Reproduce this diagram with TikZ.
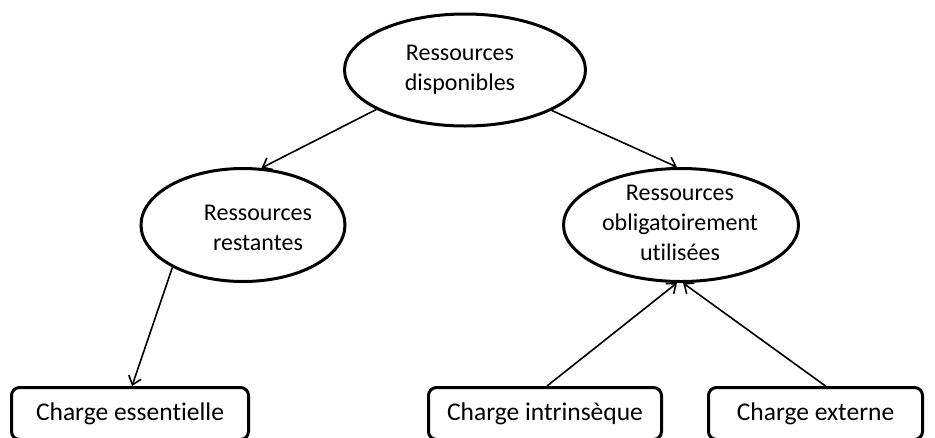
\documentclass[tikz,border=0pt]{standalone}
\usepackage{fontspec}
\setmainfont{Carlito}[RawFeature=-liga]
\usetikzlibrary{shapes.geometric,arrows.meta,calc}
\begin{document}
\begin{tikzpicture}[x=1pt,y=-1pt,
  ell/.style={draw=black,line width=3pt,ellipse,inner sep=0pt},
  lbl/.style={align=center,font=\fontsize{24}{30}\selectfont,inner sep=0pt},
  box/.style={draw=black,line width=3pt,rounded corners=8pt,inner sep=0pt,minimum height=52pt,font=\fontsize{25.5}{30}\selectfont},
  arr/.style={line width=1.6pt,-{Straight Barb[length=8pt,width=13pt,line width=1.6pt]}}]
\useasboundingbox (0,0) rectangle (935,437);
\node[ell,minimum width=241pt,minimum height=112pt] (top) at (465,70) {};
\node[lbl] (toptxt) at (460,70) {Ressources\\disponibles};
\node[ell,minimum width=204pt,minimum height=113pt] (left) at (243,225) {};
\node[lbl] (lefttxt) at (258,228) {Ressources\\restantes};
\node[ell,minimum width=235pt,minimum height=113pt] (right) at (681,225) {};
\node[lbl] (righttxt) at (680,223) {Ressources\\obligatoirement\\utilisées};
\node[box,minimum width=237pt] (b1) at (130,413.5) {Charge essentielle};
\node[box,minimum width=233pt] (b2) at (545,413.5) {Charge intrinsèque};
\node[box,minimum width=214pt] (b3) at (815.5,413.5) {Charge externe};
\draw[arr] (top.204) -- (left.72);
\draw[arr] (top.335) -- (right.94);
\draw[arr] (left.211.7) -- ([xshift=2pt]b1.north);
\draw[arr] ([xshift=2pt]b2.north) -- (right.266);
\draw[arr] ([xshift=10pt]b3.north) -- (right.272);
\end{tikzpicture}
\end{document}
